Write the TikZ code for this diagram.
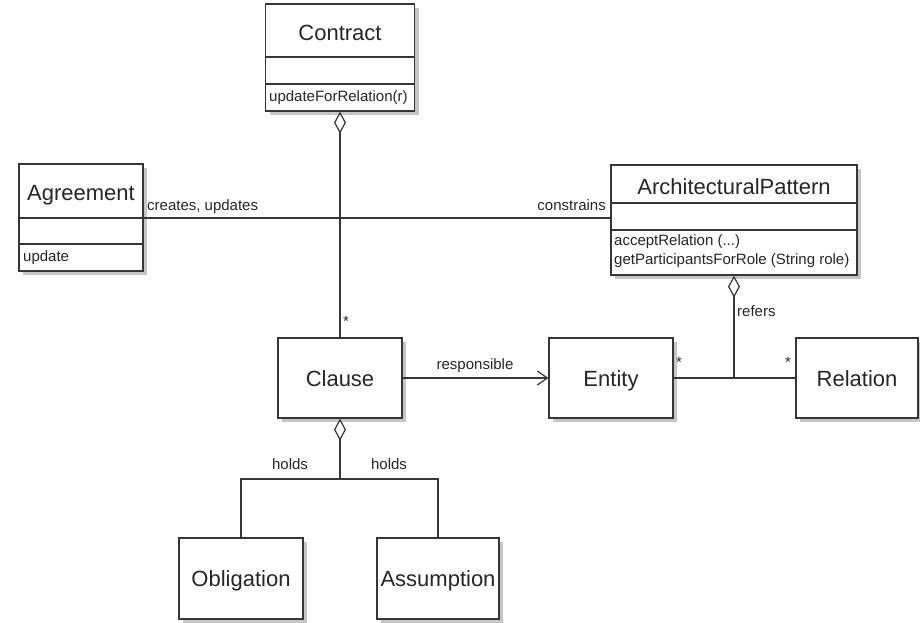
\documentclass[tikz,border=0pt]{standalone}
\usepackage{fontspec}
\setmainfont{Liberation Sans}
\usetikzlibrary{shadows,arrows.meta}

\definecolor{umlline}{HTML}{363636}
\definecolor{umltext}{HTML}{262626}
\definecolor{umlshadow}{HTML}{C6C6C6}

\tikzset{
  classbox/.style={draw=umlline, line width=1.2pt, fill=white, inner sep=0pt,
    drop shadow={shadow xshift=4pt, shadow yshift=-4pt, fill=umlshadow, opacity=1}},
  classname/.style={font=\fontsize{22}{26}\selectfont, text=umltext, inner sep=0pt,
    text height=16pt, text depth=0pt},
  member/.style={font=\fontsize{15}{18}\selectfont, text=umltext, anchor=west, inner sep=0pt},
  lbl/.style={font=\fontsize{15}{18}\selectfont, text=umltext, inner sep=0pt,
    text height=11pt, text depth=0pt},
  mult/.style={font=\fontsize{15}{18}\selectfont, text=umltext, inner sep=0pt},
  sep/.style={draw=umlline, line width=1.2pt},
  conn/.style={draw=umlline, line width=1.2pt},
  agg/.style={conn, {Diamond[fill=white, length=22pt, width=12pt]}-},
  assoc/.style={conn, -{Straight Barb[length=10pt, width=14pt]}},
}

\begin{document}
\begin{tikzpicture}[x=1pt, y=-1pt]
  \fill[white] (0,0) rectangle (920,622);
  \useasboundingbox (0,0) rectangle (920,622);

  % classes with compartments
  \node[classbox, minimum width=149pt, minimum height=107pt] (contract) at (340,57.5) {};
  \node[classbox, minimum width=124pt, minimum height=107pt] (agreement) at (81,217.5) {};
  \node[classbox, minimum width=246pt, minimum height=110pt] (pattern) at (734,220) {};

  % compartment separators
  \draw[sep] (contract.west |- 0,57) -- (contract.east |- 0,57);
  \draw[sep] (contract.west |- 0,84) -- (contract.east |- 0,84);
  \draw[sep] (agreement.west |- 0,218) -- (agreement.east |- 0,218);
  \draw[sep] (agreement.west |- 0,244) -- (agreement.east |- 0,244);
  \draw[sep] (pattern.west |- 0,203) -- (pattern.east |- 0,203);
  \draw[sep] (pattern.west |- 0,230) -- (pattern.east |- 0,230);

  % class names and operations
  \node[classname] (contractname) at (340,32) {Contract};
  \node[member] (contractop) at (269,98) {updateForRelation(r)};
  \node[classname] (agreementname) at (81,192) {Agreement};
  \node[member] (agreementop) at (23,258) {update};
  \node[classname] (patternname) at (734,186) {ArchitecturalPattern};
  \node[member] (patternopa) at (614,242) {acceptRelation (...)};
  \node[member] (patternopb) at (614,261) {getParticipantsForRole (String role)};

  % plain classes
  \node[classbox, classname, minimum width=124pt, minimum height=80pt] (clause) at (340,378) {Clause};
  \node[classbox, classname, minimum width=124pt, minimum height=80pt] (entity) at (611,378) {Entity};
  \node[classbox, classname, minimum width=122pt, minimum height=80pt] (relation) at (857,378) {Relation};
  \node[classbox, classname, minimum width=124pt, minimum height=81pt] (obligation) at (241,578.5) {Obligation};
  \node[classbox, classname, minimum width=122pt, minimum height=81pt] (assumption) at (438,578.5) {Assumption};

  % associations
  \draw[conn] (agreement.east |- 0,218) -- (pattern.west |- 0,218);
  \node[lbl, anchor=west] (creates) at (147,205) {creates, updates};
  \node[lbl, anchor=east] (constrains) at (606,205) {constrains};

  \draw[agg] (contract.south) -- (clause.north);
  \node[mult] (clausemult) at (346,321) {*};

  \draw[assoc] (clause.east) -- (entity.west);
  \node[lbl] (responsible) at (475,364) {responsible};

  \coordinate (refjoin) at (pattern.south |- entity.east);
  \draw[agg] (pattern.south) -- (refjoin);
  \draw[conn] (entity.east) -- (relation.west);
  \node[lbl, anchor=west] (refers) at (737,311) {refers};
  \node[mult] (entitymult) at (679,362) {*};
  \node[mult] (relationmult) at (788,362) {*};

  \coordinate (holdjoin) at (340,479);
  \draw[agg] (clause.south) -- (holdjoin);
  \draw[conn] (obligation.north) |- (holdjoin) -| (assumption.north);
  \node[lbl] (holdsa) at (290,464) {holds};
  \node[lbl] (holdsb) at (389,464) {holds};
\end{tikzpicture}
\end{document}
